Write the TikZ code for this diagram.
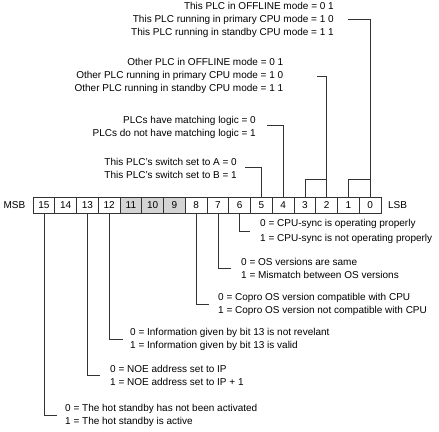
\documentclass[tikz,border=0pt]{standalone}
\usepackage{fontspec}
\setmainfont{Liberation Sans}
\usetikzlibrary{calc}

\tikzset{
  bitcell/.style={draw=black!80, line width=0.6pt, minimum width=21.75pt,
    minimum height=16pt, inner sep=0pt, font=\fontsize{10}{12}\selectfont},
  graycell/.style={bitcell, fill=black!17},
  lbl/.style={inner sep=0pt, font=\fontsize{10}{13}\selectfont},
  wire/.style={draw=black!80, line width=0.6pt},
}

\begin{document}
\begin{tikzpicture}[x=1pt,y=-1pt]
\useasboundingbox (0,0) rectangle (439,431);

%%%%register
\foreach \b in {15,14,13,12,8,7,6,5,4,3,2,1,0} {
  \pgfmathsetmacro{\cx}{33+(15-\b+0.5)*21.75}
  \node[bitcell] (b\b) at (\cx,205) {\b};
}
\foreach \b in {11,10,9} {
  \pgfmathsetmacro{\cx}{33+(15-\b+0.5)*21.75}
  \node[graycell] (b\b) at (\cx,205) {\b};
}
\node[lbl] (msb) at (14.5,205) {MSB};
\node[lbl] (lsb) at (397.5,205) {LSB};

%%%%%%upper bits
\node[lbl, align=right, anchor=north east] (thisplc) at (334,2.4)
  {This PLC in OFFLINE mode = 0 1\\This PLC running in primary CPU mode = 1 0\\This PLC running in standby CPU mode = 1 1};
\node[lbl, align=right, anchor=north east] (otherplc) at (283.5,57.6)
  {Other PLC in OFFLINE mode = 0 1\\Other PLC running in primary CPU mode = 1 0\\Other PLC running in standby CPU mode = 1 1};
\node[lbl, align=right, anchor=north east] (logic) at (256,116.4)
  {PLCs have matching logic = 0\\PLCs do not have matching logic = 1};
\node[lbl, align=right, anchor=north east] (switch) at (237,158.4)
  {This PLC's switch set to A = 0\\This PLC's switch set to B = 1};

\coordinate (t0) at (348,19);
\coordinate (t2) at (317,76);
\coordinate (t4) at (267,125);
\coordinate (t5) at (245,167);

\draw[wire] (b0.north) |- (t0);
\draw[wire] (b1.north) -- ++(0,-17) -| (b0.north);
\draw[wire] (b2.north) |- (t2);
\draw[wire] (b3.north) -- ++(0,-17) -| (b2.north);
\draw[wire] (b4.north) |- (t4);
\draw[wire] (b5.north) |- (t5);

%%%%%%lower bits
\node[lbl, align=left, anchor=north west] (sync) at (260,219.4)
  {0 = CPU-sync is operating properly\\[2pt]1 = CPU-sync is not operating properly};
\node[lbl, align=left, anchor=north west] (osver) at (241,258.4)
  {0 = OS versions are same\\1 = Mismatch between OS versions};
\node[lbl, align=left, anchor=north west] (copro) at (218,293.4)
  {0 = Copro OS version compatible with CPU\\1 = Copro OS version not compatible with CPU};
\node[lbl, align=left, anchor=north west] (valid) at (130,328.4)
  {0 = Information given by bit 13 is not revelant\\1 = Information given by bit 13 is valid};
\node[lbl, align=left, anchor=north west] (noe) at (110,365.4)
  {0 = NOE address set to IP\\1 = NOE address set to IP + 1};
\node[lbl, align=left, anchor=north west] (hsby) at (65,404.4)
  {0 = The hot standby has not been activated\\1 = The hot standby is active};

\draw[wire] (b6.south) |- ([xshift=-10pt]sync.west);
\draw[wire] (b7.south) |- ([xshift=-10pt]osver.west);
\draw[wire] (b8.south) |- ([xshift=-9pt]copro.west);
\draw[wire] (b12.south) |- ([xshift=-7pt]valid.west);
\draw[wire] (b13.south) |- ([xshift=-10pt]noe.west);
\draw[wire] (b15.south) |- ([xshift=-8pt]hsby.west);

\end{tikzpicture}
\end{document}
